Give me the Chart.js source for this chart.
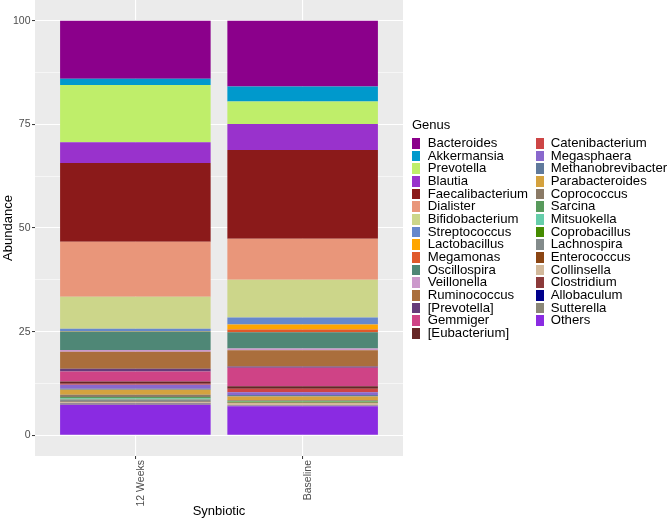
<!DOCTYPE html>
<html>
<head>
<meta charset="utf-8">
<script src="https://cdn.jsdelivr.net/npm/chart.js@4.4.1/dist/chart.umd.min.js"></script>
<style>
  html, body { margin: 0; padding: 0; background: #ffffff; }
  #wrap { position: relative; width: 669px; height: 521px; font-family: "Liberation Sans", Arial, sans-serif; }
  #c { position: absolute; left: 0; top: 0; }
  .lg-title { position: absolute; font-size: 13px; color: #000; white-space: nowrap; }
  .lg-key { position: absolute; width: 8px; height: 10.7px; }
  .lg-text { position: absolute; font-size: 13.2px; color: #000; white-space: nowrap; height: 12.67px; line-height: 12.67px; }
</style>
</head>
<body>
<div id="wrap">
  <canvas id="c" width="669" height="521"></canvas>
</div>
<script>
// ---- Data ----
const categories = ["12 Weeks", "Baseline"];
const genera = ["Bacteroides", "Akkermansia", "Prevotella", "Blautia", "Faecalibacterium", "Dialister",
  "Bifidobacterium", "Streptococcus", "Lactobacillus", "Megamonas", "Oscillospira", "Veillonella",
  "Ruminococcus", "[Prevotella]", "Gemmiger", "[Eubacterium]", "Catenibacterium", "Megasphaera",
  "Methanobrevibacter", "Parabacteroides", "Coprococcus", "Sarcina", "Mitsuokella", "Coprobacillus",
  "Lachnospira", "Enterococcus", "Collinsella", "Clostridium", "Allobaculum", "Sutterella", "Others"];
const weeks12 = [14.0, 1.5, 13.8, 5.0, 19.0, 13.3, 7.7, 0.55, 0.05, 0.05, 4.45, 0.45, 4.1, 0.65, 2.4, 0.55,
  0.25, 0.96, 0.24, 1.2, 0.56, 0.34, 0.24, 0.05, 0.51, 0.16, 0.24, 0.05, 0.03, 0.24, 7.38];
const baseline = [15.85, 3.65, 5.4, 6.3, 21.4, 9.9, 9.1, 1.65, 1.25, 0.65, 3.9, 0.45, 3.9, 0.3, 4.45, 0.61,
  0.89, 0.63, 0.34, 0.96, 0.17, 0.1, 0.05, 0.2, 0.07, 0.05, 0.63, 0.05, 0.03, 0.07, 7.0];
const colors = ["#8B008B", "#0099CC", "#BFEE6A", "#9932CC", "#8B1A1A", "#E9967A", "#CCD68A", "#6688CC",
  "#FFA500", "#E0592B", "#4F8776", "#CC99CC", "#AA6E3C", "#663B7A", "#CF4386", "#662626", "#CD4545",
  "#8968CD", "#607A9C", "#D5A23E", "#8B7A66", "#589A5C", "#66CDAA", "#458B00", "#838B8B", "#8B4513",
  "#D2B99B", "#8B3A3A", "#00008B", "#8B8878", "#8A2BE2"];
const yTicks = [0, 12.5, 25, 37.5, 50, 62.5, 75, 87.5, 100];
const yLabels = ["0", "", "25", "", "50", "", "75", "", "100"];

// ---- Datasets (first dataset stacked at bottom, so reverse legend order) ----
const datasets = [];
for (let i = genera.length - 1; i >= 0; i--) {
  datasets.push({
    label: genera[i],
    data: [{x: 1, y: weeks12[i]}, {x: 2, y: baseline[i]}],
    backgroundColor: colors[i],
    borderWidth: 0,
    categoryPercentage: 0.9,
    barPercentage: 1.0
  });
}

const panelBg = {
  id: 'panelBg',
  beforeDraw(chart) {
    const {ctx, chartArea: a} = chart;
    ctx.save();
    ctx.fillStyle = '#EBEBEB';
    ctx.fillRect(a.left, a.top, a.right - a.left, a.bottom - a.top);
    ctx.restore();
  }
};

const FONT = "'Liberation Sans', Arial, sans-serif";
const isMajor = v => Math.abs(v % 25) < 1e-6;

new Chart(document.getElementById('c'), {
  type: 'bar',
  data: { datasets },
  plugins: [panelBg],
  options: {
    responsive: false,
    animation: false,
    devicePixelRatio: 1,
    layout: { padding: { left: 0, right: 266, top: 0, bottom: 0 } },
    plugins: { legend: { display: false }, tooltip: { enabled: false } },
    scales: {
      x: {
        type: 'linear',
        stacked: true,
        offset: false,
        min: 0.4,
        max: 2.6,
        afterBuildTicks: s => { s.ticks = [1, 2].map(v => ({value: v})); },
        afterFit: s => { s.height = 65; s.paddingLeft = 0; s.paddingRight = 0; s.paddingTop = 0; s.paddingBottom = 0; },
        ticks: {
          autoSkip: false,
          minRotation: 90,
          maxRotation: 90,
          padding: 1,
          labelOffset: 5.5,
          color: '#4D4D4D',
          font: { family: FONT, size: 10.5 },
          callback: v => categories[v - 1]
        },
        grid: { offset: false, color: '#FFFFFF', lineWidth: 1.1, tickColor: '#333333', tickLength: 3, tickWidth: 1 },
        border: { display: false },
        title: { display: true, text: 'Synbiotic', color: '#000', font: { family: FONT, size: 13 }, padding: { top: 0, bottom: 1.7 } }
      },
      y: {
        stacked: true,
        min: -5,
        max: 105,
        afterBuildTicks: s => { s.ticks = yTicks.map(v => ({value: v})); },
        afterFit: s => { s.width = 35; s.paddingTop = 0; s.paddingBottom = 0; s.paddingLeft = 0; s.paddingRight = 0; },
        ticks: {
          padding: 1.5,
          color: '#4D4D4D',
          font: { family: FONT, size: 10.5 },
          callback: (v, i) => yLabels[yTicks.indexOf(v)]
        },
        grid: {
          color: '#FFFFFF',
          lineWidth: c => isMajor(c.tick.value) ? 1.1 : 0.55,
          tickColor: c => isMajor(c.tick.value) ? '#333333' : 'rgba(0,0,0,0)',
          tickLength: 3,
          tickWidth: 1
        },
        border: { display: false },
        title: { display: true, text: 'Abundance', color: '#000', font: { family: FONT, size: 13 }, padding: { top: 0.7, bottom: 0 } }
      }
    }
  }
});

// ---- Legend (HTML text) ----
const wrap = document.getElementById('wrap');
const t = document.createElement('div');
t.className = 'lg-title';
t.textContent = 'Genus';
t.style.left = '412px';
t.style.top = (124.7 - 7.5) + 'px';
wrap.appendChild(t);
const perCol = 16, rowH = 12.67, firstY = 143.3;
genera.forEach((g, i) => {
  const col = Math.floor(i / perCol), row = i % perCol;
  const cy = firstY + row * rowH;
  const key = document.createElement('div');
  key.className = 'lg-key';
  key.style.background = colors[i];
  key.style.left = (col ? 535.7 : 412.3) + 'px';
  key.style.top = (cy - 5.35) + 'px';
  wrap.appendChild(key);
  const tx = document.createElement('div');
  tx.className = 'lg-text';
  tx.textContent = g;
  tx.style.left = (col ? 550.7 : 427.7) + 'px';
  tx.style.top = (cy - rowH / 2) + 'px';
  wrap.appendChild(tx);
});
</script>
</body>
</html>
